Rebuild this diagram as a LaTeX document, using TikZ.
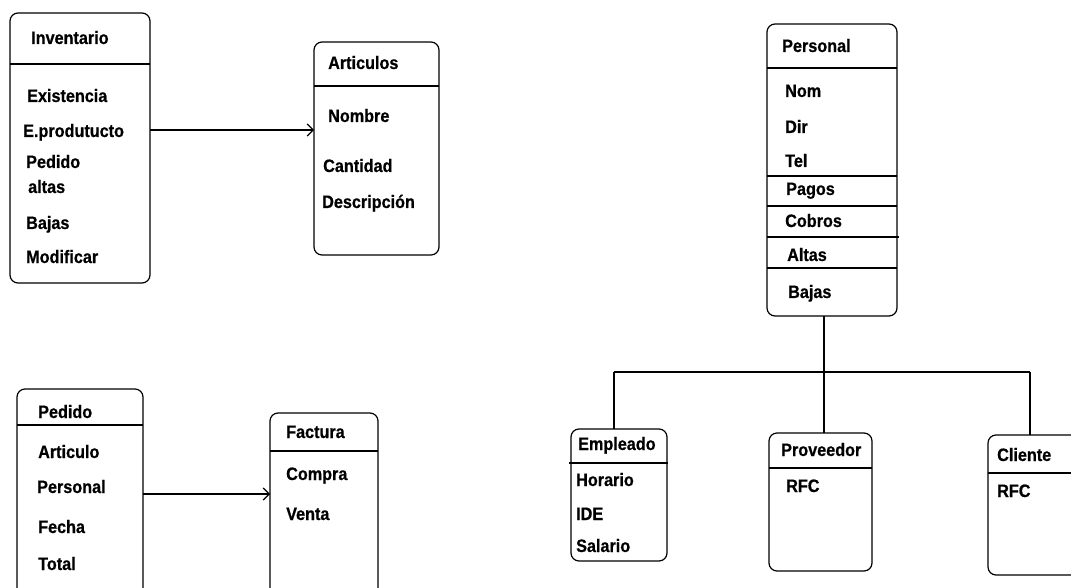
\documentclass[tikz,border=0pt]{standalone}
\usepackage{fontspec}
\setmainfont{Liberation Sans}[FakeStretch=0.9, BoldFeatures={FakeBold=0.6}]
\usetikzlibrary{arrows.meta}
\begin{document}
\begin{tikzpicture}[x=1pt,y=-1pt,
  classbox/.style={draw, line width=1.2pt, rounded corners=8pt, inner sep=0pt,
    outer sep=0pt, anchor=north west},
  rule/.style={line width=1.2pt},
  lbl/.style={anchor=base west, inner sep=0pt,
    font=\fontsize{18}{18}\selectfont\bfseries},
  link/.style={line width=1.2pt},
  arr/.style={line width=1.2pt, -{Straight Barb[length=6pt,width=12pt]}}]
\useasboundingbox (0,0) rectangle (1071,588);
\clip (0,0) rectangle (1071,588);

% ---------- Inventario ----------
\node[classbox, minimum width=140pt, minimum height=270pt] (inv) at (10,13) {};
\draw[rule] (inv.west |- 0,64) -- (inv.east |- 0,64);
\node[lbl] (invT) at (31,44) {Inventario};
\node[lbl] (inv1) at (27,102) {Existencia};
\node[lbl] (inv2) at (23,137) {E.produtucto};
\node[lbl] (inv3) at (26,168) {Pedido};
\node[lbl] (inv4) at (28,193) {altas};
\node[lbl] (inv5) at (26,229) {Bajas};
\node[lbl] (inv6) at (26,263) {Modificar};

% ---------- Articulos ----------
\node[classbox, minimum width=125pt, minimum height=213pt] (art) at (314,42) {};
\draw[rule] (art.west |- 0,86) -- (art.east |- 0,86);
\node[lbl] (artT) at (328,69) {Articulos};
\node[lbl] (art1) at (328,122) {Nombre};
\node[lbl] (art2) at (323,172) {Cantidad};
\node[lbl] (art3) at (322,208) {Descripción};

\draw[arr] (inv.east |- 0,130) -- (art.west |- 0,130);

% ---------- Pedido ----------
\node[classbox, minimum width=126pt, minimum height=230pt] (ped) at (17,389) {};
\draw[rule] (ped.west |- 0,425) -- (ped.east |- 0,425);
\node[lbl] (pedT) at (38,418) {Pedido};
\node[lbl] (ped1) at (38,458) {Articulo};
\node[lbl] (ped2) at (37,493) {Personal};
\node[lbl] (ped3) at (38,533) {Fecha};
\node[lbl] (ped4) at (38,570) {Total};

% ---------- Factura ----------
\node[classbox, minimum width=108pt, minimum height=210pt] (fac) at (270,413) {};
\draw[rule] (fac.west |- 0,451) -- (fac.east |- 0,451);
\node[lbl] (facT) at (286,438) {Factura};
\node[lbl] (fac1) at (286,480) {Compra};
\node[lbl] (fac2) at (286,520) {Venta};

\draw[arr] (ped.east |- 0,494) -- (fac.west |- 0,494);

% ---------- Personal ----------
\node[classbox, minimum width=130pt, minimum height=292pt] (per) at (767,24) {};
\draw[rule] (per.west |- 0,68) -- (per.east |- 0,68);
\draw[rule] (per.west |- 0,176) -- (per.east |- 0,176);
\draw[rule] (per.west |- 0,206) -- (per.east |- 0,206);
\draw[rule] (per.west |- 0,237) -- ([xshift=2pt]per.east |- 0,237);
\draw[rule] (per.west |- 0,268) -- (per.east |- 0,268);
\node[lbl] (perT) at (782,52) {Personal};
\node[lbl] (per1) at (785,97) {Nom};
\node[lbl] (per2) at (785,133) {Dir};
\node[lbl] (per3) at (785,167) {Tel};
\node[lbl] (per4) at (786,195) {Pagos};
\node[lbl] (per5) at (785,227) {Cobros};
\node[lbl] (per6) at (787,261) {Altas};
\node[lbl] (per7) at (788,298) {Bajas};

% ---------- Empleado ----------
\node[classbox, minimum width=96pt, minimum height=132pt] (emp) at (571,429) {};
\draw[rule] ([xshift=-2pt]emp.west |- 0,463) -- ([xshift=1pt]emp.east |- 0,463);
\node[lbl] (empT) at (578,450) {Empleado};
\node[lbl] (emp1) at (576,486) {Horario};
\node[lbl] (emp2) at (576,520) {IDE};
\node[lbl] (emp3) at (576,552) {Salario};

% ---------- Proveedor ----------
\node[classbox, minimum width=103pt, minimum height=138pt] (pro) at (769,433) {};
\draw[rule] (pro.west |- 0,468) -- (pro.east |- 0,468);
\node[lbl] (proT) at (781,456) {Proveedor};
\node[lbl] (pro1) at (786,492) {RFC};

% ---------- Cliente ----------
\node[classbox, minimum width=100pt, minimum height=140pt] (cli) at (988,435) {};
\draw[line width=1.8pt] (cli.west |- 0,473) -- (cli.east |- 0,473);
\node[lbl] (cliT) at (997,461) {Cliente};
\node[lbl] (cli1) at (997,497) {RFC};

% ---------- inheritance tree ----------
\coordinate (bus) at (824,372);
\coordinate (busL) at (614,372);
\coordinate (busR) at (1030,372);
\draw[link] (per.south -| bus) -- (bus);
\draw[link] (busL) -- (busR);
\draw[link] (busL) -- (busL |- emp.north);
\draw[link] (bus) -- (bus |- pro.north);
\draw[link] (busR) -- (busR |- cli.north);
\end{tikzpicture}
\end{document}
